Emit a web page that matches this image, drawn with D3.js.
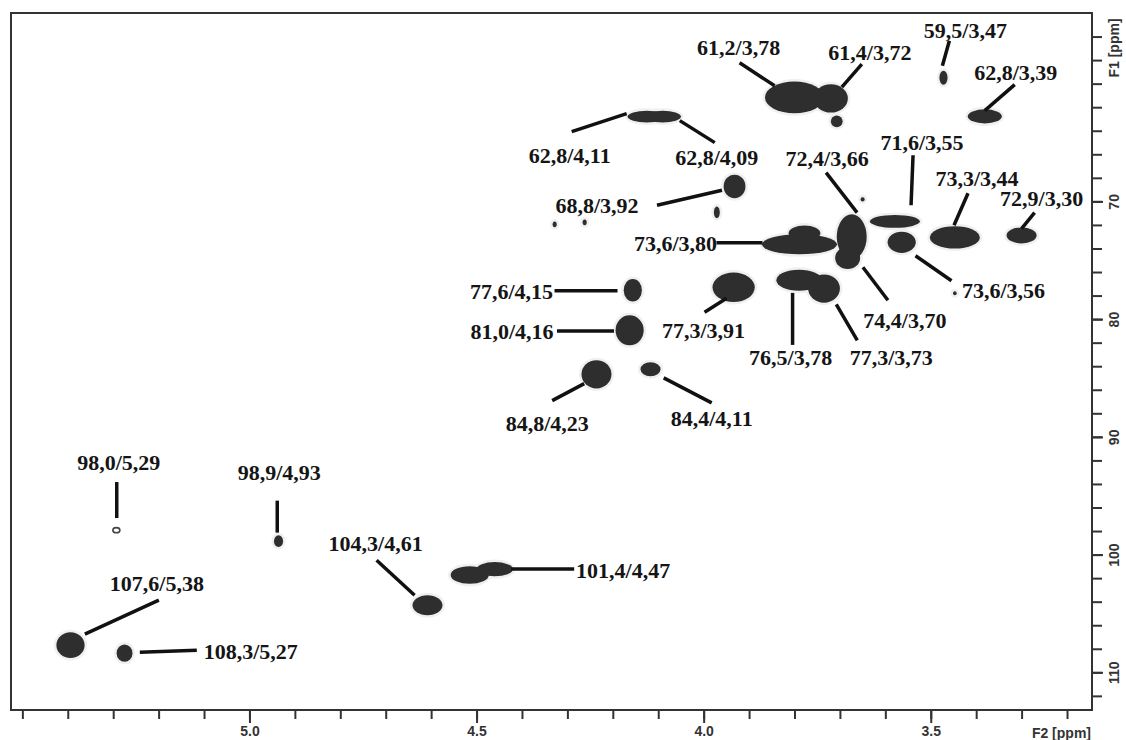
<!DOCTYPE html>
<html>
<head>
    <title>HSQC</title>
    <script src="https://d3js.org/d3.v7.min.js"></script>
    <style type="text/css">
        body{ margin:0; background:#fff; }
        .axis path{ display:none; }
        .axis line{ stroke:#333; stroke-width:2; }
        .axis text{
            font-family: "Liberation Sans", Arial, sans-serif;
            font-size: 14px;
            font-weight: bold;
            fill: #333;
        }
        .lab{
            font-family: "Liberation Serif", "Times New Roman", serif;
            font-size: 22px;
            font-weight: bold;
            fill: #151515;
        }
    </style>
</head>
<body>
<script>
    var w = 1126;
    var h = 740;

    // cross peaks: F2 (1H ppm), F1 (13C ppm), widths in ppm
    var peakF2 = [3.472, 3.800, 3.720, 3.707, 3.381, 4.125, 4.09, 3.932, 3.971, 3.650,
                  3.579, 3.674, 3.683, 3.789, 3.778, 3.447, 3.300, 3.564, 3.447, 4.156,
                  3.934, 3.790, 3.735, 4.163, 4.236, 4.117, 4.936, 4.608, 4.515, 4.46,
                  5.394, 5.275, 4.328, 4.262];
    var peakF1 = [59.5, 61.17, 61.26, 63.2, 62.78, 62.8, 62.8, 68.73, 70.93, 69.83,
                  71.7, 73.0, 74.8, 73.65, 72.7, 73.06, 72.89, 73.48, 77.8, 77.55,
                  77.3, 76.7, 77.4, 80.95, 84.69, 84.26, 98.86, 104.3, 101.73, 101.24,
                  107.69, 108.37, 71.95, 71.78];
    var peakW2 = [0.018, 0.13, 0.075, 0.026, 0.075, 0.085, 0.08, 0.048, 0.013, 0.009,
                  0.11, 0.066, 0.055, 0.165, 0.07, 0.11, 0.066, 0.062, 0.008, 0.04,
                  0.093, 0.10, 0.07, 0.062, 0.066, 0.044, 0.02, 0.066, 0.084, 0.08,
                  0.062, 0.035, 0.009, 0.009];
    var peakW1 = [1.2, 2.7, 2.4, 1.0, 1.2, 1.0, 1.0, 2.0, 1.0, 0.35,
                  1.1, 3.8, 1.9, 1.7, 1.3, 1.9, 1.36, 1.8, 0.35, 1.9,
                  2.5, 1.8, 2.4, 2.55, 2.4, 1.2, 1.0, 1.7, 1.5, 1.2,
                  2.2, 1.45, 0.5, 0.5];
    // weak peak drawn as an open contour
    var ringF2 = [5.293];
    var ringF1 = [97.93];

    // assignment labels (F1 / F2)
    var labelF1 = [59.5, 61.2, 61.4, 62.8, 62.8, 62.8, 68.8, 71.6, 72.4, 73.3,
                   72.9, 73.6, 73.6, 74.4, 77.6, 77.3, 76.5, 77.3, 81.0, 84.8,
                   84.4, 98.0, 98.9, 104.3, 101.4, 107.6, 108.3];
    var labelF2 = [3.47, 3.78, 3.72, 3.39, 4.11, 4.09, 3.92, 3.55, 3.66, 3.44,
                   3.30, 3.80, 3.56, 3.70, 4.15, 3.91, 3.78, 3.73, 4.16, 4.23,
                   4.11, 5.29, 4.93, 4.61, 4.47, 5.38, 5.27];

    var xMajor = [5.0, 4.5, 4.0, 3.5];
    var yMajor = [70, 80, 90, 100, 110];

    // label placement, pixel offsets from the labelled point: text centre, leader start, leader end
    var labelPos = [
        [21,-47, 5,-37, -2,-12], [-65,-50, -64,-35, -29,-12], [39,-48, 31,-36, 11,-13],
        [35,-44, 34,-32, 4,-6], [-84,39, -82,15, -27,-3], [54,41, 17,4, 52,26],
        [-143,18, -83,18, -18,3], [14,-78, 5,-65, 3,-15], [-31,-71, -32,-57, -1,-17],
        [19,-62, 10,-47, -4,-15], [20,-37, 13,-23, 0,-7], [-119,0, -78,-1, -32,-1],
        [100,47, 12,12, 48,37], [65,67, 23,14, 48,47], [-124,0, -81,0, -18,0],
        [-41,43, -40,25, -18,11], [-13,79, -11,15, -11,67], [65,70, 10,17, 31,53],
        [-119,0, -74,0, -17,0], [-52,48, -47,25, -15,8], [58,47, 10,7, 58,32],
        [1,-69, -1,-49, -1,-13], [-2,-69, -4,-41, -4,-9], [-51,-62, -50,-45, -12,-10],
        [133,-1, 21,-2, 84,-2], [80,-61, 8,-10, 82,-44], [124,-1, 13,0, 70,-2]
    ];

    var xScale = d3.scaleLinear().domain([5.525, 3.145]).range([11, 1092]);
    var yScale = d3.scaleLinear().domain([54, 113.2]).range([13, 710]);

    var svg = d3.select("body").append("svg")
                .attr("width", w)
                .attr("height", h);

    var peaks = peakF2.map(function(d, i){
        return {f2: d, f1: peakF1[i], w2: peakW2[i], w1: peakW1[i]};
    });
    var pxPerPpmX = Math.abs(xScale(0) - xScale(1));
    var pxPerPpmY = Math.abs(yScale(1) - yScale(0));

    // faint halo, then the dark contour fill
    svg.append("g").selectAll("ellipse")
        .data(peaks).enter().append("ellipse")
        .attr("cx", function(d){ return xScale(d.f2); })
        .attr("cy", function(d){ return yScale(d.f1); })
        .attr("rx", function(d){ return d.w2 * pxPerPpmX / 2 + 2.5; })
        .attr("ry", function(d){ return d.w1 * pxPerPpmY / 2 + 2.5; })
        .attr("fill", "#f0f0f0");
    svg.append("g").selectAll("ellipse")
        .data(peaks).enter().append("ellipse")
        .attr("cx", function(d){ return xScale(d.f2); })
        .attr("cy", function(d){ return yScale(d.f1); })
        .attr("rx", function(d){ return d.w2 * pxPerPpmX / 2; })
        .attr("ry", function(d){ return d.w1 * pxPerPpmY / 2; })
        .attr("fill", "#2e2e2e");
    svg.append("g").selectAll("ellipse")
        .data(ringF2).enter().append("ellipse")
        .attr("cx", function(d){ return xScale(d); })
        .attr("cy", function(d, i){ return yScale(ringF1[i]); })
        .attr("rx", 3.5)
        .attr("ry", 2.6)
        .attr("fill", "none")
        .attr("stroke", "#444")
        .attr("stroke-width", 1.6);

    // frame
    svg.append("rect")
        .attr("x", xScale.range()[0]).attr("y", yScale.range()[0])
        .attr("width", xScale.range()[1] - xScale.range()[0])
        .attr("height", yScale.range()[1] - yScale.range()[0])
        .attr("fill", "none").attr("stroke", "#333").attr("stroke-width", 2);

    // axes
    var xMinor = d3.range(55, 31, -1).map(function(d){ return d / 10; });
    svg.append("g").attr("class", "axis")
        .attr("transform", "translate(0," + yScale.range()[1] + ")")
        .call(d3.axisBottom(xScale).tickValues(xMinor).tickSize(9).tickFormat(""));
    svg.append("g").attr("class", "axis")
        .attr("transform", "translate(0," + yScale.range()[1] + ")")
        .call(d3.axisBottom(xScale).tickValues(xMajor).tickSize(13).tickPadding(3)
              .tickFormat(d3.format(".1f")));

    var yMinor = d3.range(56, 113, 2);
    svg.append("g").attr("class", "axis")
        .attr("transform", "translate(" + xScale.range()[1] + ",0)")
        .call(d3.axisRight(yScale).tickValues(yMinor).tickSize(10).tickFormat(""));
    var yAx = svg.append("g").attr("class", "axis")
        .attr("transform", "translate(" + xScale.range()[1] + ",0)")
        .call(d3.axisRight(yScale).tickValues(yMajor).tickSize(11).tickFormat(d3.format("d")));
    yAx.selectAll("text")
        .attr("transform", "translate(22,0) rotate(-90)")
        .attr("x", 0).attr("y", 0).attr("dy", "0.35em")
        .style("text-anchor", "middle");

    svg.append("text")
        .attr("x", 1091).attr("y", 738)
        .attr("text-anchor", "end")
        .style("font-family", "Liberation Sans, Arial, sans-serif")
        .style("font-size", "14px").style("font-weight", "bold").style("fill", "#333")
        .text("F2 [ppm]");
    svg.append("text")
        .attr("transform", "translate(1119,48) rotate(-90)")
        .attr("text-anchor", "middle")
        .style("font-family", "Liberation Sans, Arial, sans-serif")
        .style("font-size", "14px").style("font-weight", "bold").style("fill", "#333")
        .text("F1 [ppm]");

    // labels with leader lines
    var comma = function(v, n){ return v.toFixed(n).replace(".", ","); };
    var labels = labelF1.map(function(d, i){
        return {px: xScale(labelF2[i]), py: yScale(d), pos: labelPos[i],
                text: comma(d, 1) + "/" + comma(labelF2[i], 2)};
    });
    svg.append("g").selectAll("line")
        .data(labels).enter().append("line")
        .attr("x1", function(d){ return d.px + d.pos[2]; })
        .attr("y1", function(d){ return d.py + d.pos[3]; })
        .attr("x2", function(d){ return d.px + d.pos[4]; })
        .attr("y2", function(d){ return d.py + d.pos[5]; })
        .attr("stroke", "#111")
        .attr("stroke-width", 3.5);
    svg.append("g").selectAll("text")
        .data(labels).enter().append("text")
        .attr("class", "lab")
        .attr("x", function(d){ return d.px + d.pos[0]; })
        .attr("y", function(d){ return d.py + d.pos[1]; })
        .attr("dy", "0.35em")
        .attr("text-anchor", "middle")
        .text(function(d){ return d.text; });
</script>
</body>
</html>
